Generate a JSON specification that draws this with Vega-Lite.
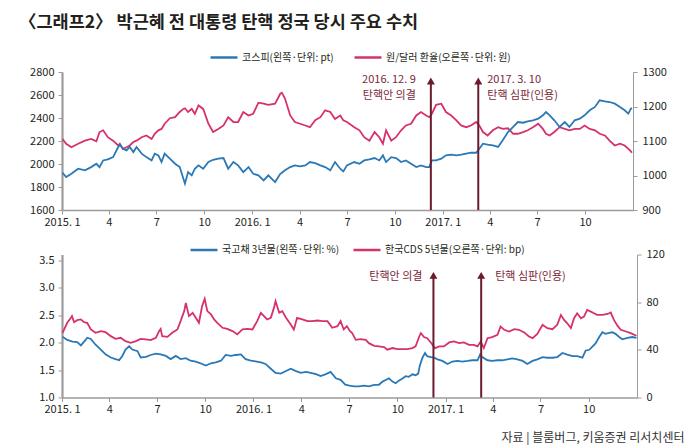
{
  "$schema": "https://vega.github.io/schema/vega-lite/v6.json",
  "padding": {"left": 19, "top": 14, "right": 5, "bottom": 1},
  "title": {"text": "〈그래프2〉 박근혜 전 대통령 탄핵 정국 당시 주요 수치", "anchor": "start", "fontSize": 17.5, "fontWeight": "bold", "color": "#231f20", "offset": 11, "dx": -10},
  "datasets": {
    "top": [
      {"d":"2015-01-02","k":1924,"w":1106},{"d":"2015-01-09","k":1886,"w":1092},{"d":"2015-01-19","k":1915,"w":1082},
      {"d":"2015-02-01","k":1959,"w":1092},{"d":"2015-02-14","k":1945,"w":1101},{"d":"2015-02-26","k":1973,"w":1106},
      {"d":"2015-03-08","k":2002,"w":1099},{"d":"2015-03-14","k":1973,"w":1126},{"d":"2015-03-21","k":2031,"w":1131},
      {"d":"2015-03-30","k":2040,"w":1111},{"d":"2015-04-09","k":2060,"w":1101},{"d":"2015-04-19","k":2148,"w":1087},
      {"d":"2015-04-22","k":2168,"w":1092},{"d":"2015-04-28","k":2133,"w":1077},{"d":"2015-05-05","k":2118,"w":1082},
      {"d":"2015-05-11","k":2148,"w":1087},{"d":"2015-05-18","k":2104,"w":1097},{"d":"2015-05-24","k":2148,"w":1101},
      {"d":"2015-06-03","k":2090,"w":1111},{"d":"2015-06-12","k":2060,"w":1116},{"d":"2015-06-22","k":2031,"w":1106},
      {"d":"2015-06-28","k":2090,"w":1121},{"d":"2015-07-05","k":2075,"w":1131},{"d":"2015-07-11","k":2017,"w":1135},
      {"d":"2015-07-17","k":2090,"w":1150},{"d":"2015-07-27","k":2046,"w":1166},{"d":"2015-08-06","k":2002,"w":1169},
      {"d":"2015-08-15","k":1973,"w":1184},{"d":"2015-08-22","k":1872,"w":1193},{"d":"2015-08-25","k":1829,"w":1195},
      {"d":"2015-08-31","k":1930,"w":1184},{"d":"2015-09-07","k":1901,"w":1193},{"d":"2015-09-13","k":1959,"w":1179},
      {"d":"2015-09-20","k":1988,"w":1203},{"d":"2015-09-29","k":1959,"w":1193},{"d":"2015-10-09","k":2017,"w":1150},
      {"d":"2015-10-18","k":2037,"w":1126},{"d":"2015-10-28","k":2046,"w":1135},{"d":"2015-11-07","k":2052,"w":1145},
      {"d":"2015-11-16","k":1959,"w":1169},{"d":"2015-11-26","k":2017,"w":1155},{"d":"2015-12-05","k":1988,"w":1155},
      {"d":"2015-12-15","k":1930,"w":1184},{"d":"2015-12-25","k":1973,"w":1174},{"d":"2016-01-03","k":1915,"w":1179},
      {"d":"2016-01-13","k":1901,"w":1211},{"d":"2016-01-23","k":1857,"w":1208},{"d":"2016-02-01","k":1901,"w":1205},
      {"d":"2016-02-14","k":1843,"w":1208},{"d":"2016-02-24","k":1915,"w":1237},{"d":"2016-02-27","k":1924,"w":1240},
      {"d":"2016-03-04","k":1945,"w":1223},{"d":"2016-03-14","k":1973,"w":1174},{"d":"2016-03-23","k":1988,"w":1155},
      {"d":"2016-04-02","k":1979,"w":1150},{"d":"2016-04-12","k":1988,"w":1145},{"d":"2016-04-21","k":2017,"w":1140},
      {"d":"2016-05-01","k":2008,"w":1160},{"d":"2016-05-11","k":1988,"w":1169},{"d":"2016-05-20","k":1973,"w":1189},
      {"d":"2016-05-30","k":1945,"w":1184},{"d":"2016-06-08","k":2017,"w":1164},{"d":"2016-06-18","k":1959,"w":1174},
      {"d":"2016-06-24","k":1936,"w":1160},{"d":"2016-07-01","k":1988,"w":1155},{"d":"2016-07-15","k":2017,"w":1140},
      {"d":"2016-07-25","k":2002,"w":1131},{"d":"2016-08-03","k":2031,"w":1111},{"d":"2016-08-13","k":2040,"w":1101},
      {"d":"2016-08-23","k":2052,"w":1126},{"d":"2016-09-01","k":2031,"w":1111},{"d":"2016-09-08","k":2075,"w":1092},
      {"d":"2016-09-14","k":2017,"w":1131},{"d":"2016-09-24","k":2060,"w":1101},{"d":"2016-10-03","k":2052,"w":1111},
      {"d":"2016-10-13","k":2017,"w":1131},{"d":"2016-10-22","k":2031,"w":1145},{"d":"2016-11-01","k":2002,"w":1150},
      {"d":"2016-11-11","k":1973,"w":1174},{"d":"2016-11-20","k":1988,"w":1184},{"d":"2016-11-30","k":1973,"w":1174},
      {"d":"2016-12-06","k":1973,"w":1169},{"d":"2016-12-11","k":2031,"w":1179},{"d":"2016-12-19","k":2031,"w":1205},
      {"d":"2016-12-29","k":2046,"w":1208},{"d":"2017-01-07","k":2075,"w":1184},{"d":"2017-01-17","k":2081,"w":1174},
      {"d":"2017-01-27","k":2075,"w":1160},{"d":"2017-02-05","k":2081,"w":1145},{"d":"2017-02-15","k":2090,"w":1140},
      {"d":"2017-02-24","k":2098,"w":1145},{"d":"2017-03-06","k":2098,"w":1155},{"d":"2017-03-12","k":2133,"w":1145},
      {"d":"2017-03-19","k":2177,"w":1126},{"d":"2017-03-28","k":2168,"w":1116},{"d":"2017-04-07","k":2162,"w":1131},
      {"d":"2017-04-17","k":2148,"w":1140},{"d":"2017-04-26","k":2206,"w":1135},{"d":"2017-05-06","k":2278,"w":1137},
      {"d":"2017-05-16","k":2322,"w":1121},{"d":"2017-05-25","k":2365,"w":1121},{"d":"2017-06-04","k":2359,"w":1126},
      {"d":"2017-06-13","k":2371,"w":1131},{"d":"2017-06-23","k":2380,"w":1140},{"d":"2017-07-03","k":2394,"w":1150},
      {"d":"2017-07-12","k":2423,"w":1135},{"d":"2017-07-18","k":2452,"w":1121},{"d":"2017-07-25","k":2423,"w":1116},
      {"d":"2017-08-03","k":2380,"w":1126},{"d":"2017-08-13","k":2322,"w":1140},{"d":"2017-08-23","k":2365,"w":1135},
      {"d":"2017-09-01","k":2322,"w":1131},{"d":"2017-09-11","k":2380,"w":1135},{"d":"2017-09-21","k":2394,"w":1135},
      {"d":"2017-09-30","k":2423,"w":1145},{"d":"2017-10-10","k":2467,"w":1135},{"d":"2017-10-20","k":2496,"w":1131},
      {"d":"2017-10-29","k":2554,"w":1121},{"d":"2017-11-08","k":2545,"w":1116},{"d":"2017-11-17","k":2539,"w":1101},
      {"d":"2017-11-27","k":2525,"w":1087},{"d":"2017-12-07","k":2496,"w":1092},{"d":"2017-12-16","k":2467,"w":1087},
      {"d":"2017-12-23","k":2438,"w":1077},{"d":"2017-12-28","k":2481,"w":1070},{"d":"2017-12-30","k":2487,"w":1066}
    ],
    "ktb": [
      {"d":"2015-01-02","v":2.105},{"d":"2015-01-11","v":2.047},{"d":"2015-01-21","v":2.017},{"d":"2015-01-30","v":2.006},
      {"d":"2015-02-06","v":1.948},{"d":"2015-02-15","v":2.047},{"d":"2015-02-18","v":2.087},{"d":"2015-02-25","v":2.064},
      {"d":"2015-03-06","v":1.96},{"d":"2015-03-16","v":1.872},{"d":"2015-03-25","v":1.785},{"d":"2015-04-04","v":1.727},
      {"d":"2015-04-13","v":1.698},{"d":"2015-04-20","v":1.68},{"d":"2015-04-26","v":1.756},{"d":"2015-05-02","v":1.872},
      {"d":"2015-05-09","v":1.93},{"d":"2015-05-15","v":1.872},{"d":"2015-05-25","v":1.843},{"d":"2015-05-31","v":1.727},
      {"d":"2015-06-10","v":1.738},{"d":"2015-06-19","v":1.773},{"d":"2015-06-29","v":1.797},{"d":"2015-07-08","v":1.785},
      {"d":"2015-07-18","v":1.756},{"d":"2015-07-27","v":1.698},{"d":"2015-08-06","v":1.756},{"d":"2015-08-15","v":1.698},
      {"d":"2015-08-25","v":1.715},{"d":"2015-09-03","v":1.669},{"d":"2015-09-13","v":1.651},{"d":"2015-09-22","v":1.622},
      {"d":"2015-10-02","v":1.581},{"d":"2015-10-12","v":1.622},{"d":"2015-10-21","v":1.64},{"d":"2015-10-31","v":1.669},
      {"d":"2015-11-09","v":1.773},{"d":"2015-11-19","v":1.756},{"d":"2015-11-28","v":1.773},{"d":"2015-12-08","v":1.785},
      {"d":"2015-12-17","v":1.698},{"d":"2015-12-27","v":1.669},{"d":"2016-01-05","v":1.657},{"d":"2016-01-15","v":1.64},
      {"d":"2016-01-24","v":1.61},{"d":"2016-02-03","v":1.523},{"d":"2016-02-12","v":1.448},{"d":"2016-02-22","v":1.436},
      {"d":"2016-03-03","v":1.483},{"d":"2016-03-12","v":1.523},{"d":"2016-03-21","v":1.483},{"d":"2016-03-31","v":1.448},
      {"d":"2016-04-10","v":1.465},{"d":"2016-04-19","v":1.448},{"d":"2016-04-29","v":1.424},{"d":"2016-05-08","v":1.39},
      {"d":"2016-05-18","v":1.424},{"d":"2016-05-27","v":1.465},{"d":"2016-06-06","v":1.349},{"d":"2016-06-15","v":1.32},
      {"d":"2016-06-24","v":1.233},{"d":"2016-07-02","v":1.214},{"d":"2016-07-11","v":1.203},{"d":"2016-07-20","v":1.203},
      {"d":"2016-07-30","v":1.214},{"d":"2016-08-08","v":1.203},{"d":"2016-08-18","v":1.231},{"d":"2016-08-27","v":1.231},
      {"d":"2016-09-03","v":1.289},{"d":"2016-09-09","v":1.318},{"d":"2016-09-15","v":1.347},{"d":"2016-09-22","v":1.289},
      {"d":"2016-09-28","v":1.26},{"d":"2016-10-04","v":1.307},{"d":"2016-10-11","v":1.347},{"d":"2016-10-17","v":1.388},
      {"d":"2016-10-23","v":1.376},{"d":"2016-10-30","v":1.422},{"d":"2016-11-05","v":1.405},{"d":"2016-11-10","v":1.434},
      {"d":"2016-11-13","v":1.579},{"d":"2016-11-18","v":1.723},{"d":"2016-11-23","v":1.81},{"d":"2016-11-27","v":1.752},
      {"d":"2016-12-04","v":1.735},{"d":"2016-12-10","v":1.723},{"d":"2016-12-17","v":1.694},{"d":"2016-12-26","v":1.665},
      {"d":"2017-01-05","v":1.608},{"d":"2017-01-14","v":1.654},{"d":"2017-01-24","v":1.665},{"d":"2017-02-02","v":1.654},
      {"d":"2017-02-12","v":1.665},{"d":"2017-02-21","v":1.677},{"d":"2017-03-03","v":1.677},{"d":"2017-03-08","v":1.781},
      {"d":"2017-03-12","v":1.735},{"d":"2017-03-22","v":1.677},{"d":"2017-03-31","v":1.665},{"d":"2017-04-10","v":1.677},
      {"d":"2017-04-19","v":1.677},{"d":"2017-04-29","v":1.694},{"d":"2017-05-08","v":1.711},{"d":"2017-05-18","v":1.694},
      {"d":"2017-05-28","v":1.665},{"d":"2017-06-06","v":1.608},{"d":"2017-06-16","v":1.665},{"d":"2017-06-25","v":1.694},
      {"d":"2017-07-05","v":1.735},{"d":"2017-07-14","v":1.723},{"d":"2017-07-24","v":1.723},{"d":"2017-08-02","v":1.735},
      {"d":"2017-08-12","v":1.81},{"d":"2017-08-21","v":1.781},{"d":"2017-08-31","v":1.752},{"d":"2017-09-09","v":1.752},
      {"d":"2017-09-19","v":1.723},{"d":"2017-09-25","v":1.851},{"d":"2017-10-02","v":1.868},{"d":"2017-10-08","v":1.926},
      {"d":"2017-10-14","v":1.984},{"d":"2017-10-21","v":2.1},{"d":"2017-10-27","v":2.186},{"d":"2017-11-02","v":2.157},
      {"d":"2017-11-09","v":2.175},{"d":"2017-11-15","v":2.186},{"d":"2017-11-21","v":2.157},{"d":"2017-11-28","v":2.1},
      {"d":"2017-12-04","v":2.059},{"d":"2017-12-14","v":2.082},{"d":"2017-12-23","v":2.1},{"d":"2017-12-31","v":2.082}
    ],
    "cds": [
      {"d":"2015-01-02","v":54.3},{"d":"2015-01-11","v":62.7},{"d":"2015-01-18","v":66.9},{"d":"2015-01-20","v":68.3},
      {"d":"2015-01-24","v":63.2},{"d":"2015-01-30","v":64.9},{"d":"2015-02-06","v":65.5},{"d":"2015-02-12","v":63.2},
      {"d":"2015-02-18","v":62.7},{"d":"2015-02-25","v":57.1},{"d":"2015-03-06","v":54.3},{"d":"2015-03-16","v":55.7},
      {"d":"2015-03-25","v":54.8},{"d":"2015-04-04","v":51.5},{"d":"2015-04-13","v":49.2},{"d":"2015-04-23","v":50.1},
      {"d":"2015-05-02","v":47.3},{"d":"2015-05-12","v":45.9},{"d":"2015-05-22","v":47.3},{"d":"2015-05-31","v":49.2},
      {"d":"2015-06-10","v":48.7},{"d":"2015-06-19","v":48.1},{"d":"2015-06-29","v":50.1},{"d":"2015-07-05","v":55.7},
      {"d":"2015-07-08","v":57.6},{"d":"2015-07-11","v":51.5},{"d":"2015-07-21","v":50.9},{"d":"2015-07-30","v":54.3},
      {"d":"2015-08-09","v":57.1},{"d":"2015-08-15","v":64.1},{"d":"2015-08-22","v":72.5},{"d":"2015-08-25","v":79.4},
      {"d":"2015-08-31","v":68.3},{"d":"2015-09-07","v":71.1},{"d":"2015-09-13","v":66.9},{"d":"2015-09-19","v":62.7},
      {"d":"2015-09-25","v":76.6},{"d":"2015-09-30","v":82.8},{"d":"2015-10-05","v":72.5},{"d":"2015-10-12","v":69.7},
      {"d":"2015-10-18","v":65.5},{"d":"2015-10-24","v":62.7},{"d":"2015-11-03","v":58.5},{"d":"2015-11-12","v":57.6},
      {"d":"2015-11-22","v":55.7},{"d":"2015-12-01","v":52.9},{"d":"2015-12-11","v":57.1},{"d":"2015-12-20","v":57.6},
      {"d":"2015-12-30","v":57.1},{"d":"2016-01-08","v":64.1},{"d":"2016-01-15","v":71.1},{"d":"2016-01-21","v":68.3},
      {"d":"2016-01-27","v":65.5},{"d":"2016-02-03","v":66.9},{"d":"2016-02-09","v":75.2},{"d":"2016-02-12","v":80.8},
      {"d":"2016-02-19","v":71.1},{"d":"2016-02-25","v":72.5},{"d":"2016-03-03","v":66.9},{"d":"2016-03-12","v":61.3},
      {"d":"2016-03-18","v":57.1},{"d":"2016-03-24","v":66.9},{"d":"2016-04-03","v":65.5},{"d":"2016-04-13","v":64.1},
      {"d":"2016-04-22","v":64.1},{"d":"2016-05-02","v":64.6},{"d":"2016-05-11","v":64.1},{"d":"2016-05-21","v":64.1},
      {"d":"2016-05-30","v":58.5},{"d":"2016-06-09","v":59.9},{"d":"2016-06-15","v":64.1},{"d":"2016-06-21","v":57.1},
      {"d":"2016-06-27","v":59.9},{"d":"2016-07-02","v":56.2},{"d":"2016-07-07","v":54},{"d":"2016-07-14","v":48.4},
      {"d":"2016-07-23","v":49},{"d":"2016-08-02","v":48.4},{"d":"2016-08-08","v":45.6},{"d":"2016-08-18","v":43.4},
      {"d":"2016-08-27","v":42.9},{"d":"2016-09-06","v":42.3},{"d":"2016-09-12","v":40.1},{"d":"2016-09-22","v":41.5},
      {"d":"2016-10-01","v":40.6},{"d":"2016-10-11","v":40.6},{"d":"2016-10-20","v":40.6},{"d":"2016-10-30","v":41.5},
      {"d":"2016-11-05","v":42.9},{"d":"2016-11-12","v":51.2},{"d":"2016-11-15","v":54},{"d":"2016-11-21","v":50.7},
      {"d":"2016-11-27","v":49.8},{"d":"2016-12-04","v":46.2},{"d":"2016-12-12","v":41.5},{"d":"2016-12-20","v":42.9},
      {"d":"2016-12-29","v":42.9},{"d":"2017-01-08","v":46.2},{"d":"2017-01-17","v":47},{"d":"2017-01-27","v":45.6},
      {"d":"2017-02-05","v":46.2},{"d":"2017-02-15","v":44.2},{"d":"2017-02-24","v":44.2},{"d":"2017-03-03","v":42.9},
      {"d":"2017-03-09","v":47},{"d":"2017-03-15","v":41.5},{"d":"2017-03-22","v":49.8},{"d":"2017-03-31","v":50.7},
      {"d":"2017-04-10","v":52.6},{"d":"2017-04-16","v":59.6},{"d":"2017-04-23","v":56.8},{"d":"2017-05-02","v":55.4},
      {"d":"2017-05-12","v":57.3},{"d":"2017-05-21","v":56.8},{"d":"2017-05-31","v":54.6},{"d":"2017-06-09","v":51.2},
      {"d":"2017-06-16","v":49.8},{"d":"2017-06-25","v":53.4},{"d":"2017-07-05","v":61},{"d":"2017-07-14","v":58.2},
      {"d":"2017-07-24","v":57.3},{"d":"2017-08-02","v":61},{"d":"2017-08-09","v":69.3},{"d":"2017-08-15","v":65.1},
      {"d":"2017-08-21","v":62.3},{"d":"2017-08-28","v":58.2},{"d":"2017-09-03","v":66.5},{"d":"2017-09-09","v":70.7},
      {"d":"2017-09-16","v":66.5},{"d":"2017-09-22","v":67.9},{"d":"2017-09-28","v":73.5},{"d":"2017-10-05","v":72.1},
      {"d":"2017-10-11","v":70.7},{"d":"2017-10-17","v":69.3},{"d":"2017-10-27","v":69.3},{"d":"2017-11-06","v":70.1},
      {"d":"2017-11-12","v":71.3},{"d":"2017-11-18","v":65.1},{"d":"2017-11-25","v":60.1},{"d":"2017-12-01","v":56.8},
      {"d":"2017-12-11","v":55.4},{"d":"2017-12-20","v":54},{"d":"2017-12-31","v":51.8}
    ],
    "ev": [
      {"d":"2016-12-09","side":"L","t":"2016. 12. 9\n탄핵안 의결","b":"탄핵안 의결"},
      {"d":"2017-03-10","side":"R","t":"2017. 3. 10\n탄핵 심판(인용)","b":"탄핵 심판(인용)"}
    ]
  },
  "resolve": {"scale": {"color": "independent"}, "legend": {"color": "independent"}},
  "spacing": 7.5,
  "vconcat": [
    {
      "width": 571,
      "height": 138,
      "resolve": {"scale": {"y": "independent"}},
      "layer": [
        {
          "data": {"name": "top"},
          "mark": {"type": "line", "strokeWidth": 1.8},
          "encoding": {
            "x": {"field": "d", "type": "temporal", "title": null,
              "scale": {"type": "utc", "domain": [{"year":2015,"month":1,"date":1,"utc":true},{"year":2018,"month":1,"date":1,"utc":true}]},
              "axis": {"title": null,
                "values": [{"year":2015,"month":1,"date":1,"utc":true},{"year":2015,"month":4,"date":1,"utc":true},{"year":2015,"month":7,"date":1,"utc":true},{"year":2015,"month":10,"date":1,"utc":true},{"year":2016,"month":1,"date":1,"utc":true},{"year":2016,"month":4,"date":1,"utc":true},{"year":2016,"month":7,"date":1,"utc":true},{"year":2016,"month":10,"date":1,"utc":true},{"year":2017,"month":1,"date":1,"utc":true},{"year":2017,"month":4,"date":1,"utc":true},{"year":2017,"month":7,"date":1,"utc":true},{"year":2017,"month":10,"date":1,"utc":true}],
                "labelExpr": "utcmonth(datum.value) == 0 ? utcFormat(datum.value, '%Y. %-m') : utcFormat(datum.value, '%-m')"}},
            "y": {"field": "w", "type": "quantitative", "title": null, "scale": {"domain": [900, 1300]},
              "axis": {"orient": "right", "title": null, "values": [900, 1000, 1100, 1200, 1300], "format": "d", "domainWidth": 1, "labelPadding": 5}},
            "color": {"datum": "원/달러 환율(오른쪽·단위: 원)", "type": "nominal",
              "scale": {"domain": ["코스피(왼쪽·단위: pt)", "원/달러 환율(오른쪽·단위: 원)"], "range": ["#2a78b6", "#d6306f"]},
              "legend": {"orient": "none", "legendX": 147, "legendY": -29.5, "direction": "horizontal", "title": null, "symbolType": "stroke", "symbolSize": 729, "symbolStrokeWidth": 2.5, "labelFontSize": 10, "labelColor": "#231f20", "labelOffset": 3, "columnPadding": 15}}
          }
        },
        {
          "layer": [
            {
              "data": {"name": "top"},
              "mark": {"type": "line", "strokeWidth": 1.8},
              "encoding": {
                "x": {"field": "d", "type": "temporal", "title": null},
                "y": {"field": "k", "type": "quantitative", "title": null, "scale": {"domain": [1600, 2800]},
                  "axis": {"orient": "left", "title": null, "values": [1600, 1800, 2000, 2200, 2400, 2600, 2800], "format": "d", "minExtent": 33, "maxExtent": 33, "domainWidth": 2.2, "labelPadding": 4}},
                "color": {"datum": "코스피(왼쪽·단위: pt)", "type": "nominal",
                  "scale": {"domain": ["코스피(왼쪽·단위: pt)", "원/달러 환율(오른쪽·단위: 원)"], "range": ["#2a78b6", "#d6306f"]},
                  "legend": {"orient": "none", "legendX": 147, "legendY": -29.5, "direction": "horizontal", "title": null, "symbolType": "stroke", "symbolSize": 729, "symbolStrokeWidth": 2.5, "labelFontSize": 10, "labelColor": "#231f20", "labelOffset": 3, "columnPadding": 15}}
              }
            },
            {
              "data": {"name": "ev"},
              "mark": {"type": "rule", "color": "#6a1b2d", "strokeWidth": 2},
              "encoding": {"x": {"field": "d", "type": "temporal", "title": null},
                "y": {"datum": 1600, "type": "quantitative", "title": null, "axis": {"orient": "left", "title": null, "values": [1600, 1800, 2000, 2200, 2400, 2600, 2800], "format": "d", "minExtent": 33, "maxExtent": 33, "domainWidth": 2.2, "labelPadding": 4}},
                "y2": {"datum": 2722}}
            },
            {
              "data": {"name": "ev"},
              "mark": {"type": "point", "shape": "triangle-up", "filled": true, "size": 64, "color": "#6a1b2d", "opacity": 1},
              "encoding": {"x": {"field": "d", "type": "temporal", "title": null},
                "y": {"datum": 2722, "type": "quantitative", "title": null, "axis": {"orient": "left", "title": null, "values": [1600, 1800, 2000, 2200, 2400, 2600, 2800], "format": "d", "minExtent": 33, "maxExtent": 33, "domainWidth": 2.2, "labelPadding": 4}}}
            },
            {
              "data": {"name": "ev"},
              "transform": [{"filter": "datum.side == 'L'"}],
              "mark": {"type": "text", "align": "right", "baseline": "top", "dx": -15, "lineBreak": "\n", "lineHeight": 16, "fontSize": 11, "color": "#7a2838"},
              "encoding": {"x": {"field": "d", "type": "temporal", "title": null},
                "y": {"datum": 2782, "type": "quantitative", "title": null, "axis": {"orient": "left", "title": null, "values": [1600, 1800, 2000, 2200, 2400, 2600, 2800], "format": "d", "minExtent": 33, "maxExtent": 33, "domainWidth": 2.2, "labelPadding": 4}},
                "text": {"field": "t"}}
            },
            {
              "data": {"name": "ev"},
              "transform": [{"filter": "datum.side == 'R'"}],
              "mark": {"type": "text", "align": "left", "baseline": "top", "dx": 9, "lineBreak": "\n", "lineHeight": 16, "fontSize": 11, "color": "#7a2838"},
              "encoding": {"x": {"field": "d", "type": "temporal", "title": null},
                "y": {"datum": 2782, "type": "quantitative", "title": null, "axis": {"orient": "left", "title": null, "values": [1600, 1800, 2000, 2200, 2400, 2600, 2800], "format": "d", "minExtent": 33, "maxExtent": 33, "domainWidth": 2.2, "labelPadding": 4}},
                "text": {"field": "t"}}
            }
          ]
        }
      ]
    },
    {
      "width": 575,
      "height": 143,
      "resolve": {"scale": {"y": "independent"}},
      "layer": [
        {
          "data": {"name": "cds"},
          "mark": {"type": "line", "strokeWidth": 1.8},
          "encoding": {
            "x": {"field": "d", "type": "temporal",
              "scale": {"type": "utc", "domain": [{"year":2015,"month":1,"date":1,"utc":true},{"year":2018,"month":1,"date":1,"utc":true}]},
              "axis": {"title": "자료 | 블룸버그, 키움증권 리서치센터", "titleFontSize": 12, "titleFontWeight": "normal", "titleColor": "#333333", "titleAlign": "right", "titleAnchor": "end", "titleBaseline": "middle", "titleX": 622, "titleY": 40,
                "values": [{"year":2015,"month":1,"date":1,"utc":true},{"year":2015,"month":4,"date":1,"utc":true},{"year":2015,"month":7,"date":1,"utc":true},{"year":2015,"month":10,"date":1,"utc":true},{"year":2016,"month":1,"date":1,"utc":true},{"year":2016,"month":4,"date":1,"utc":true},{"year":2016,"month":7,"date":1,"utc":true},{"year":2016,"month":10,"date":1,"utc":true},{"year":2017,"month":1,"date":1,"utc":true},{"year":2017,"month":4,"date":1,"utc":true},{"year":2017,"month":7,"date":1,"utc":true},{"year":2017,"month":10,"date":1,"utc":true}],
                "labelExpr": "utcmonth(datum.value) == 0 ? utcFormat(datum.value, '%Y. %-m') : utcFormat(datum.value, '%-m')"}},
            "y": {"field": "v", "type": "quantitative", "title": null, "scale": {"domain": [0, 120]},
              "axis": {"orient": "right", "title": null, "values": [0, 40, 80, 120], "domainWidth": 1, "labelPadding": 5}},
            "color": {"datum": "한국CDS 5년물(오른쪽·단위: bp)", "type": "nominal",
              "scale": {"domain": ["국고채 3년물(왼쪽·단위: %)", "한국CDS 5년물(오른쪽·단위: bp)"], "range": ["#2a78b6", "#d6306f"]},
              "legend": {"orient": "none", "legendX": 127, "legendY": -19.5, "direction": "horizontal", "title": null, "symbolType": "stroke", "symbolSize": 729, "symbolStrokeWidth": 2.5, "labelFontSize": 10, "labelColor": "#231f20", "labelOffset": 3, "columnPadding": 8}}
          }
        },
        {
          "layer": [
            {
              "data": {"name": "ktb"},
              "mark": {"type": "line", "strokeWidth": 1.8},
              "encoding": {
                "x": {"field": "d", "type": "temporal"},
                "y": {"field": "v", "type": "quantitative", "title": null, "scale": {"domain": [1, 3.5]},
                  "axis": {"orient": "left", "title": null, "values": [1, 1.5, 2, 2.5, 3, 3.5], "format": ".1f", "minExtent": 28.4, "maxExtent": 28.4, "domainWidth": 2.2, "labelPadding": 4}},
                "color": {"datum": "국고채 3년물(왼쪽·단위: %)", "type": "nominal",
                  "scale": {"domain": ["국고채 3년물(왼쪽·단위: %)", "한국CDS 5년물(오른쪽·단위: bp)"], "range": ["#2a78b6", "#d6306f"]},
                  "legend": {"orient": "none", "legendX": 127, "legendY": -19.5, "direction": "horizontal", "title": null, "symbolType": "stroke", "symbolSize": 729, "symbolStrokeWidth": 2.5, "labelFontSize": 10, "labelColor": "#231f20", "labelOffset": 3, "columnPadding": 8}}
              }
            },
            {
              "data": {"name": "ev"},
              "mark": {"type": "rule", "color": "#6a1b2d", "strokeWidth": 2},
              "encoding": {"x": {"field": "d", "type": "temporal"},
                "y": {"datum": 1, "type": "quantitative", "title": null, "axis": {"orient": "left", "title": null, "values": [1, 1.5, 2, 2.5, 3, 3.5], "format": ".1f", "minExtent": 28.4, "maxExtent": 28.4, "domainWidth": 2.2, "labelPadding": 4}},
                "y2": {"datum": 3.22}}
            },
            {
              "data": {"name": "ev"},
              "mark": {"type": "point", "shape": "triangle-up", "filled": true, "size": 64, "color": "#6a1b2d", "opacity": 1},
              "encoding": {"x": {"field": "d", "type": "temporal"},
                "y": {"datum": 3.22, "type": "quantitative", "title": null, "axis": {"orient": "left", "title": null, "values": [1, 1.5, 2, 2.5, 3, 3.5], "format": ".1f", "minExtent": 28.4, "maxExtent": 28.4, "domainWidth": 2.2, "labelPadding": 4}}}
            },
            {
              "data": {"name": "ev"},
              "transform": [{"filter": "datum.side == 'L'"}],
              "mark": {"type": "text", "align": "right", "baseline": "middle", "dx": -11, "fontSize": 11, "color": "#7a2838"},
              "encoding": {"x": {"field": "d", "type": "temporal"},
                "y": {"datum": 3.2, "type": "quantitative", "title": null, "axis": {"orient": "left", "title": null, "values": [1, 1.5, 2, 2.5, 3, 3.5], "format": ".1f", "minExtent": 28.4, "maxExtent": 28.4, "domainWidth": 2.2, "labelPadding": 4}},
                "text": {"field": "b"}}
            },
            {
              "data": {"name": "ev"},
              "transform": [{"filter": "datum.side == 'R'"}],
              "mark": {"type": "text", "align": "left", "baseline": "middle", "dx": 14, "fontSize": 11, "color": "#7a2838"},
              "encoding": {"x": {"field": "d", "type": "temporal"},
                "y": {"datum": 3.2, "type": "quantitative", "title": null, "axis": {"orient": "left", "title": null, "values": [1, 1.5, 2, 2.5, 3, 3.5], "format": ".1f", "minExtent": 28.4, "maxExtent": 28.4, "domainWidth": 2.2, "labelPadding": 4}},
                "text": {"field": "b"}}
            }
          ]
        }
      ]
    }
  ],
  "config": {
    "font": "Noto Sans CJK KR",
    "view": {"stroke": null},
    "axis": {"grid": false, "domainColor": "#9b9b9b", "tickColor": "#9b9b9b", "tickSize": 4, "labelColor": "#231f20", "labelFontSize": 11, "labelFont": "Noto Sans CJK KR", "titleFont": "Noto Sans CJK KR"},
    "axisX": {"labelFlush": false, "labelOverlap": false, "domainWidth": 1.5, "labelPadding": 2},
    "axisY": {"labelOverlap": false},
    "text": {"font": "Noto Sans CJK KR"},
    "legend": {"labelFont": "Noto Sans CJK KR"},
    "title": {"font": "Noto Sans CJK KR"}
  }
}
